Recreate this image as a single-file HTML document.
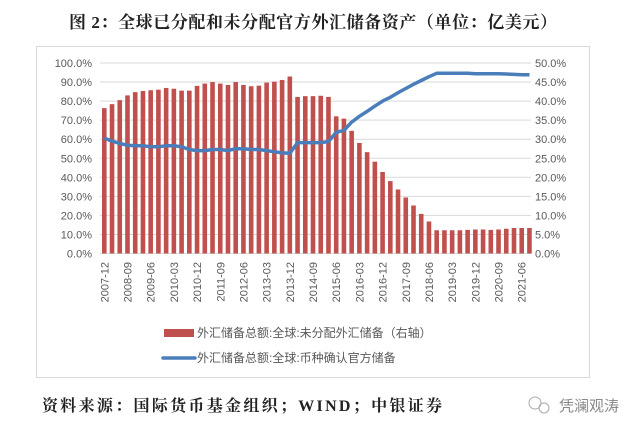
<!DOCTYPE html>
<html><head><meta charset="utf-8"><style>
body{margin:0;background:#fff;width:640px;height:434px;overflow:hidden}
svg{display:block}
</style></head><body>
<svg id="s" width="640" height="434" xmlns="http://www.w3.org/2000/svg" font-family="Liberation Sans, Noto Sans CJK SC, sans-serif">
<text x="69" y="28" font-family="Liberation Serif, Noto Serif CJK SC, serif" font-weight="bold" font-size="17" fill="#222" textLength="488" lengthAdjust="spacing">图 2：全球已分配和未分配官方外汇储备资产（单位：亿美元）</text>
<rect x="36.5" y="46.5" width="553" height="331" fill="none" stroke="#d9d9d9"/>
<g id="grid"></g><g id="bars"></g><g id="lbl"></g>
<polyline id="ln" fill="none" stroke="#4a7ebb" stroke-width="3.5" stroke-linejoin="round"/>
<rect x="164" y="329" width="30" height="8" fill="#c0504d"/>
<text x="197" y="337" font-size="12" fill="#595959">外汇储备总额:全球:未分配外汇储备（右轴）</text>
<line x1="163" y1="358" x2="195" y2="358" stroke="#4a7ebb" stroke-width="3.5" stroke-linecap="round"/>
<text x="197" y="362" font-size="12" fill="#595959">外汇储备总额:全球:币种确认官方储备</text>
<text x="42" y="411" font-family="Liberation Serif, Noto Serif CJK SC, serif" font-weight="bold" font-size="16" fill="#222" textLength="400" lengthAdjust="spacing">资料来源：国际货币基金组织；WIND；中银证券</text>
<text x="559" y="411" font-size="15" fill="#888">凭澜观涛</text>
<circle cx="535" cy="403" r="6" fill="none" stroke="#aaa"/>
<circle cx="544" cy="408" r="5" fill="none" stroke="#aaa"/>
</svg>
<script>
var ns="http://www.w3.org/2000/svg";
function el(p,t,a,tx){var e=document.createElementNS(ns,t);for(var k in a)e.setAttribute(k,a[k]);if(tx)e.textContent=tx;document.getElementById(p).appendChild(e);return e;}
var y0=253.5,pp=1.905;
for(var i=0;i<=10;i++){var y=y0-i*10*pp;
 el('grid','line',{x1:100,x2:531,y1:y,y2:y,stroke:'#d9d9d9','stroke-width':1});
 el('grid','text',{x:92,y:y+4,'text-anchor':'end','font-size':11,fill:'#595959'},(i*10).toFixed(1)+'%');
 el('grid','text',{x:535,y:y+4,'font-size':11,fill:'#595959'},(i*5).toFixed(1)+'%');}
var b=[76.3,78.4,80.5,83,84.7,85.3,85.7,86,86.9,86.5,85.5,85.5,88,89.2,90,89.2,88.5,90,88.5,87.8,88.1,89.7,90.2,91.1,92.9,
82.2,82.6,82.6,82.8,82.2,72,70.8,64.4,58,53.2,48.2,42.8,38,33.6,29.4,25.2,20.8,16.8,12.2,12.2,12.2,12.2,12.4,12.6,12.6,12.4,12.6,13,13.4,13.4,13.4];
var l=[30.3,29.5,28.9,28.4,28.3,28.3,28,28,28.3,28.3,28,27.3,27,27,27.3,27.3,27,27.5,27.5,27.3,27.3,27,26.7,26.4,26.3,
29.1,29.1,29.1,29.1,29.4,31.8,32.3,34.5,36,37.3,38.7,40,41,42.2,43.3,44.4,45.4,46.4,47.3,47.3,47.3,47.3,47.3,47.2,47.2,47.2,47.2,47.1,47,46.9,46.9];
var x0=104.3,dx=7.73,pts=[];
var labs=['2007-12','2008-09','2009-06','2010-03','2010-12','2011-09','2012-06','2013-03','2013-12','2014-09','2015-06','2016-03','2016-12','2017-09','2018-06','2019-03','2019-12','2020-09','2021-06'];
for(var i=0;i<56;i++){var x=x0+i*dx;var h=b[i]*pp;
 el('bars','rect',{x:x-2.3,y:y0-h,width:4.6,height:h,fill:'#c0504d'});
 pts.push(x.toFixed(1)+','+(y0-l[i]*2*pp).toFixed(1));
 if(i%3==0){el('lbl','text',{x:0,y:0,'font-size':11,fill:'#595959','text-anchor':'end',transform:'translate('+(x+4)+',262) rotate(-90)'},labs[i/3]);}}
document.getElementById('ln').setAttribute('points',pts.join(' '));
el('grid','line',{x1:100,x2:531,y1:y0,y2:y0,stroke:'#d9d9d9'});
</script>
</body></html>
